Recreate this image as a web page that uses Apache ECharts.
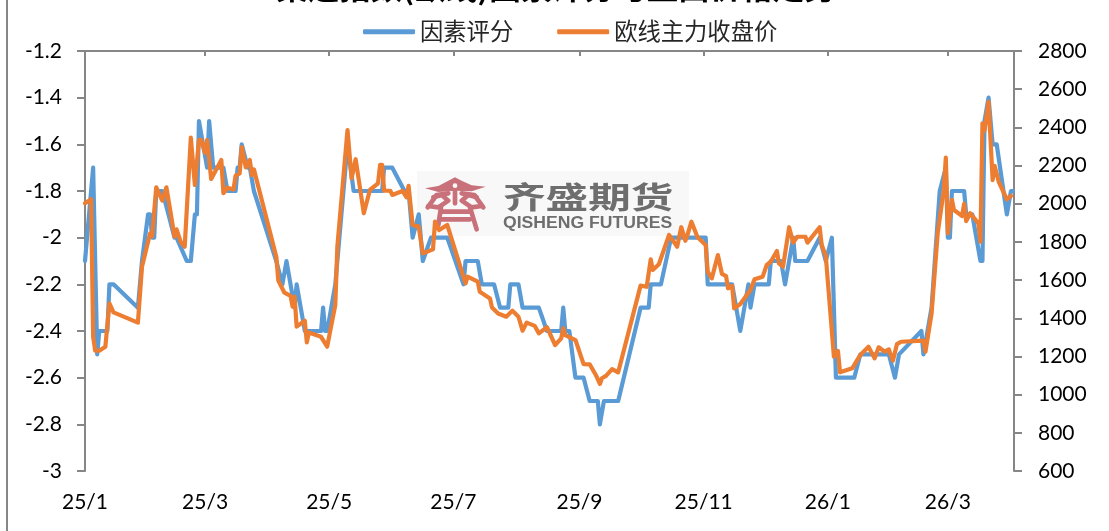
<!DOCTYPE html>
<html><head><meta charset="utf-8">
<style>html,body{margin:0;padding:0;background:#fff}#c{width:1109px;height:531px}</style>
<script src="https://cdn.jsdelivr.net/npm/echarts@6/dist/echarts.min.js"></script>
</head><body><div id="c"></div>
<script>
const titleText = '集运指数(欧线)因素评分与盘面价格走势';
const scoreName = '因素评分';
const priceName = '欧线主力收盘价';
const tickDays = [0,59,120,181,243,304,365,424];
const tickLabels = ['25/1','25/3','25/5','25/7','25/9','25/11','26/1','26/3'];
// days since 2025-01-01
const scoreDays = [0,4,6,7,11,12,14,26,28,31,32,33,34,35,38,41,44,45,50,52,54,55,56,60,61,63,68,70,74,75,76,77,80,81,83,94,97,99,101,103,104,106,108,116,117,118,119,123,129,132,146,147,151,157,159,161,164,166,170,178,186,187,193,195,201,204,208,209,213,215,223,227,234,235,236,238,241,245,248,252,253,255,262,273,277,278,283,288,305,306,318,322,326,327,329,336,337,342,344,346,348,349,355,361,364,367,369,378,381,395,398,400,411,412,416,420,423,424,425,426,432,433,436,438,440,441,442,444,446,448,453,455,456];
const scoreValues = [-2.1,-1.7,-2.5,-2.4,-2.4,-2.2,-2.2,-2.3,-2.1,-1.9,-1.9,-2,-2,-1.8,-1.8,-1.9,-2,-2,-2.1,-2.1,-1.9,-1.9,-1.5,-1.7,-1.5,-1.7,-1.7,-1.8,-1.8,-1.7,-1.7,-1.6,-1.7,-1.7,-1.8,-2.1,-2.2,-2.1,-2.2,-2.3,-2.2,-2.3,-2.4,-2.4,-2.3,-2.4,-2.4,-2.2,-1.6,-1.8,-1.8,-1.7,-1.7,-1.8,-1.8,-2,-1.9,-2.1,-2,-2,-2.2,-2.1,-2.1,-2.2,-2.2,-2.3,-2.3,-2.2,-2.2,-2.3,-2.3,-2.4,-2.4,-2.3,-2.4,-2.4,-2.6,-2.6,-2.7,-2.7,-2.8,-2.7,-2.7,-2.3,-2.3,-2.2,-2.2,-2,-2,-2.2,-2.2,-2.4,-2.2,-2.3,-2.2,-2.2,-2.1,-2.1,-2.2,-2.1,-2,-2.1,-2.1,-2,-2.1,-2,-2.6,-2.6,-2.5,-2.5,-2.6,-2.5,-2.4,-2.5,-2.3,-1.8,-1.7,-2,-2,-1.8,-1.8,-1.9,-1.9,-2,-2.1,-2.1,-1.5,-1.4,-1.6,-1.6,-1.9,-1.8,-1.8];
const priceDays = [0,3,4,5,7,10,12,14,26,28,32,33,35,38,40,42,44,45,47,49,52,54,56,57,59,60,62,67,68,70,73,74,76,77,79,81,82,83,94,95,98,101,102,103,104,108,109,110,116,119,123,124,129,131,133,137,140,144,145,146,147,150,151,156,158,159,161,164,166,171,172,174,178,187,188,193,194,199,200,203,207,210,213,215,217,221,223,227,231,234,235,236,241,245,248,251,253,254,256,259,262,273,276,278,279,282,287,291,293,295,296,298,301,305,306,308,311,313,315,316,318,319,322,327,329,333,335,337,340,341,343,346,348,350,354,355,361,362,364,368,370,371,377,381,385,388,390,393,395,397,399,401,412,413,416,419,422,423,424,426,427,431,432,433,435,439,440,441,442,444,446,447,449,453,455];
const priceValues = [2002,2023,1303,1230,1230,1251,1478,1431,1377,1670,1845,1831,2086,2016,2086,1958,1827,1866,1801,1775,2346,2098,2334,2334,2267,2334,2130,2229,2055,2084,2075,2147,2159,2296,2191,2229,2150,2180,1722,1597,1534,1517,1461,1513,1356,1387,1274,1325,1303,1251,1470,1775,2386,2133,2233,1950,2072,2107,2203,2203,2068,2068,2046,2067,2034,2094,1889,1880,1740,1761,1906,1862,1889,1583,1618,1592,1539,1504,1456,1425,1408,1440,1408,1335,1377,1360,1321,1353,1260,1295,1347,1312,1286,1160,1159,1103,1056,1086,1098,1134,1117,1571,1565,1709,1653,1683,1836,1775,1877,1806,1836,1906,1824,1784,1644,1609,1731,1632,1621,1557,1569,1452,1475,1548,1604,1618,1679,1696,1752,1688,1670,1877,1796,1827,1827,1796,1877,1784,1728,1199,1229,1117,1138,1208,1251,1190,1248,1225,1237,1178,1265,1277,1283,1225,1426,1845,2072,2241,1845,2020,1967,1936,1999,1909,1950,1897,1801,2421,2383,2534,2124,2198,2115,2023,2040];

const zip = (a,b) => a.map((d,i)=>[d,b[i]]);
const gray = '#868686';
const lblFont = 'Lato, "Open Sans", sans-serif';
const axisLine = {show:true,onZero:false,lineStyle:{color:gray,width:2}};
const axisTick = {show:true,length:8,lineStyle:{color:gray,width:2}};
const axisLabel = {color:'#000',fontFamily:lblFont,fontSize:21,formatter:v=>String(v)};
const chart = echarts.init(document.getElementById('c'),null,{renderer:'canvas'});
const lc = '#c9717a', bg = '#f8f8f8';
const stroke = pts => ({type:'polyline',shape:{points:pts},style:{fill:null,stroke:lc,lineWidth:14,lineCap:'round',lineJoin:'round'}});
const logo = {
  type:'group',x:415,y:170,scaleX:1/3,scaleY:1/3,silent:true,z:0,
  children:[
    {type:'polygon',shape:{points:[[30,55],[70,48],[100,32],[120,22],[140,32],[170,46],[212,50],[170,64],[120,62],[70,66]]},style:{fill:lc}},
    {type:'circle',shape:{cx:120,cy:47,r:7},style:{fill:bg}},
    stroke([[100,70],[65,75],[38,112]]),
    stroke([[140,70],[178,75],[205,112]]),
    stroke([[120,65],[120,100]]),
    stroke([[40,108],[70,112],[100,92],[80,75],[55,82]]),
    stroke([[200,108],[170,112],[140,92],[160,75],[185,82]]),
    stroke([[78,112],[70,165]]),
    stroke([[165,112],[185,178]]),
    stroke([[80,125],[165,125]]),
    stroke([[80,148],[165,148]]),
    {type:'circle',shape:{cx:70,cy:92,r:6},style:{fill:bg}},
    {type:'circle',shape:{cx:170,cy:92,r:6},style:{fill:bg}}
  ]
};
chart.setOption({
  animation:false,
  backgroundColor:'#fff',
  title:{text:titleText,left:556,textAlign:'center',top:-29,padding:0,textStyle:{fontFamily:'"Noto Sans CJK SC"',fontWeight:'bold',fontSize:31.5,color:'#000'}},
  legend:{left:358,top:15,icon:'roundRect',itemWidth:52,itemHeight:5,itemGap:44,
    textStyle:{fontFamily:'"Noto Sans CJK SC"',fontSize:23.3,color:'#262626',padding:[0,0,0,0]},
    data:[scoreName,priceName]},
  grid:{left:85,right:95,top:51,bottom:60},
  graphic:[
    {type:'rect',shape:{x:6,y:0,width:2,height:531},style:{fill:gray},silent:true},
    {type:'rect',shape:{x:417,y:171,width:272,height:65},style:{fill:bg},silent:true,z:0},
    logo,
    {type:'text',x:503,y:182,scaleX:1.42,scaleY:1,silent:true,z:0,style:{text:'齐盛期货',fill:'#6e6e6e',font:'bold 30px "Noto Sans CJK SC"'}},
    {type:'text',x:503,y:216,scaleX:1.1,silent:true,z:0,style:{text:'QISHENG FUTURES',fill:'#6e6e6e',font:'bold 16px "Liberation Sans"'}}
  ],
  xAxis:[
    {type:'value',position:'top',min:0,max:456.5,axisLine,
      axisTick:{show:true,inside:true,length:5,customValues:tickDays,lineStyle:{color:gray,width:2}},
      axisLabel:{show:false},splitLine:{show:false}},
    {type:'value',position:'bottom',min:0,max:456.5,axisLine:{show:false,onZero:false},axisTick:{show:false},
      axisLabel:{show:true,color:'#000',fontFamily:lblFont,fontSize:21,margin:21,customValues:tickDays,
        showMinLabel:true,hideOverlap:false,
        formatter:v=>tickLabels[tickDays.indexOf(v)]},splitLine:{show:false}}
  ],
  yAxis:[
    {type:'value',position:'left',min:-3,max:-1.2,interval:0.2,axisLine,axisTick,axisLabel:{...axisLabel,margin:23,formatter:v=>String(Math.round(v*10)/10)},splitLine:{show:false}},
    {type:'value',position:'right',min:600,max:2800,interval:200,axisLine,axisTick,axisLabel:{...axisLabel,margin:24},splitLine:{show:false}}
  ],
  series:[
    {name:scoreName,type:'line',xAxisIndex:0,yAxisIndex:0,showSymbol:false,symbol:'none',z:3,
      data:zip(scoreDays,scoreValues),itemStyle:{color:'#5B9BD5'},lineStyle:{color:'#5B9BD5',width:4.2,join:'round',cap:'round'}},
    {name:priceName,type:'line',xAxisIndex:0,yAxisIndex:1,showSymbol:false,symbol:'none',z:4,
      data:zip(priceDays,priceValues),itemStyle:{color:'#ED7D31'},lineStyle:{color:'#ED7D31',width:4.2,join:'round',cap:'round'}}
  ]
});
</script></body></html>
